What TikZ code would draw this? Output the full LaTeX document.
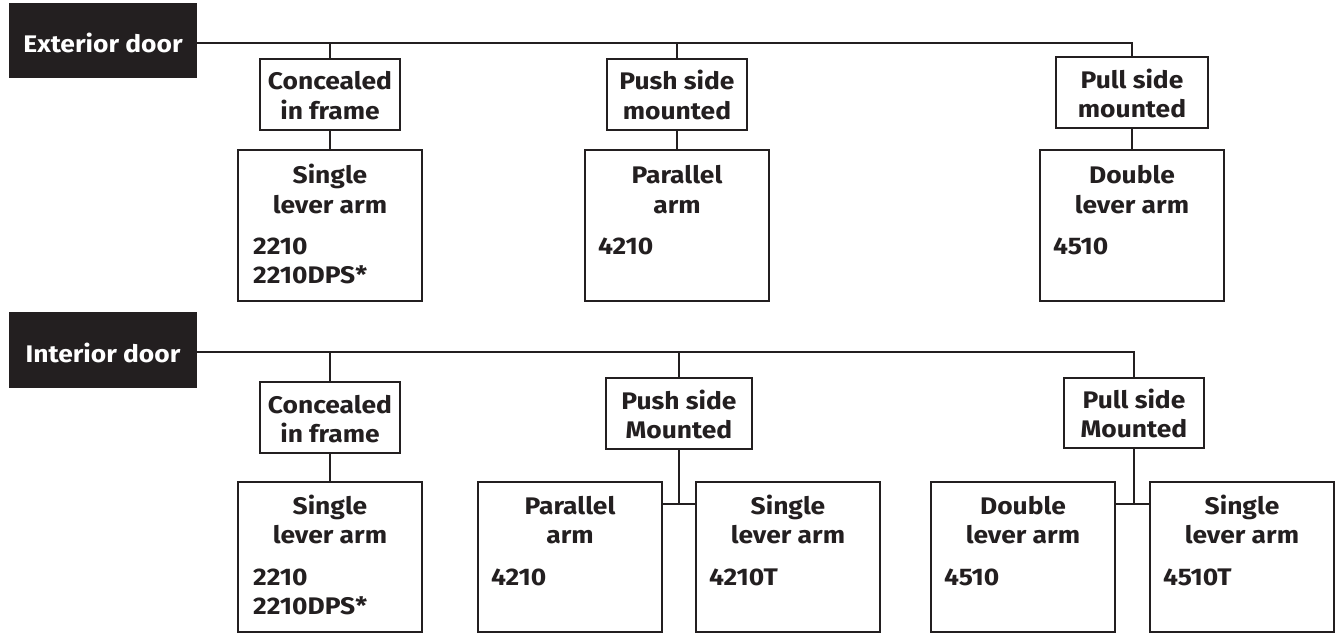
\documentclass[tikz,border=0pt]{standalone}
\usepackage{fontspec}
\setmainfont{Fira Sans}[FakeStretch=1.1]
\definecolor{ink}{HTML}{231F20}
\begin{document}
\begin{tikzpicture}[x=1pt,y=-1pt,
  box/.style={draw=ink,line width=1.4pt,inner sep=0pt},
  head/.style={fill=ink},
  conn/.style={draw=ink,line width=1.4pt},
  txt/.style={font=\bfseries\fontsize{24}{30}\selectfont,text=ink,inner sep=0pt,anchor=base},
  htxt/.style={txt,text=white},
  ltxt/.style={txt,anchor=base west}]
\useasboundingbox (0,0) rectangle (1340,633);
% ---------------- Exterior door ----------------
\node[box,head,minimum width=186pt,minimum height=73pt] (ext) at (103,40.5) {};
\node[htxt] (extt) at (103,52) {Exterior door};
\coordinate (eline) at (196,43);
\node[box,minimum width=140pt,minimum height=71pt] (ecc) at (330,94.5) {};
\node[box,minimum width=184pt,minimum height=151pt] (esl) at (330,225.5) {};
\node[box,minimum width=140pt,minimum height=71pt] (eps) at (677,94.5) {};
\node[box,minimum width=184pt,minimum height=151pt] (epa) at (677,225.5) {};
\node[box,minimum width=152pt,minimum height=71pt] (epl) at (1132,92.5) {};
\node[box,minimum width=184pt,minimum height=151pt] (edl) at (1132,225.5) {};
\draw[conn] (ext.east |- eline) -| (epl.north);
\draw[conn] (ecc.north |- eline) -- (ecc.north);
\draw[conn] (eps.north |- eline) -- (eps.north);
\draw[conn] (ecc.south) -- (esl.north);
\draw[conn] (eps.south) -- (epa.north);
\draw[conn] (epl.south) -- (edl.north);
\node[txt] (t1) at (330,89) {Concealed};
\node[txt] (t2) at (330,119) {in frame};
\node[txt] (t3) at (330,183) {Single};
\node[txt] (t4) at (330,213) {lever arm};
\node[ltxt] (t5) at (253,254) {2210};
\node[ltxt] (t6) at (253,283) {2210DPS*};
\node[txt] (t7) at (677,89) {Push side};
\node[txt] (t8) at (677,119) {mounted};
\node[txt] (t9) at (677,183) {Parallel};
\node[txt] (t10) at (677,213) {arm};
\node[ltxt] (t11) at (598,254) {4210};
\node[txt] (t12) at (1132,88) {Pull side};
\node[txt] (t13) at (1132,117) {mounted};
\node[txt] (t14) at (1132,183) {Double};
\node[txt] (t15) at (1132,213) {lever arm};
\node[ltxt] (t16) at (1053,254) {4510};
% ---------------- Interior door ----------------
\node[box,head,minimum width=186pt,minimum height=74pt] (int) at (103,350) {};
\node[htxt] (intt) at (103,362) {Interior door};
\coordinate (iline) at (196,352);
\node[box,minimum width=140pt,minimum height=71pt] (icc) at (330,417.5) {};
\node[box,minimum width=184pt,minimum height=150pt] (isl) at (330,557) {};
\node[box,minimum width=146pt,minimum height=71pt] (ips) at (679,413.5) {};
\node[box,minimum width=184pt,minimum height=150pt] (ipa) at (570,557) {};
\node[box,minimum width=184pt,minimum height=150pt] (is2) at (788,557) {};
\node[box,minimum width=140pt,minimum height=70pt] (ipl) at (1134,413) {};
\node[box,minimum width=184pt,minimum height=150pt] (idl) at (1023,557) {};
\node[box,minimum width=184pt,minimum height=150pt] (is3) at (1242,557) {};
\coordinate (jp) at (679,504);
\coordinate (jl) at (1134,504);
\draw[conn] (int.east |- iline) -| (ipl.north);
\draw[conn] (icc.north |- iline) -- (icc.north);
\draw[conn] (ips.north |- iline) -- (ips.north);
\draw[conn] (icc.south) -- (isl.north);
\draw[conn] (ips.south) -- (jp);
\draw[conn] (ipa.east |- jp) -- (is2.west |- jp);
\draw[conn] (ipl.south) -- (jl);
\draw[conn] (idl.east |- jl) -- (is3.west |- jl);
\node[txt] (u1) at (330,413) {Concealed};
\node[txt] (u2) at (330,442) {in frame};
\node[txt] (u3) at (330,514) {Single};
\node[txt] (u4) at (330,543) {lever arm};
\node[ltxt] (u5) at (253,585) {2210};
\node[ltxt] (u6) at (253,614) {2210DPS*};
\node[txt] (u7) at (679,409) {Push side};
\node[txt] (u8) at (679,438) {Mounted};
\node[txt] (u9) at (570,514) {Parallel};
\node[txt] (u10) at (570,543) {arm};
\node[ltxt] (u11) at (491,585) {4210};
\node[txt] (u12) at (788,514) {Single};
\node[txt] (u13) at (788,543) {lever arm};
\node[ltxt] (u14) at (709,585) {4210T};
\node[txt] (u15) at (1134,408) {Pull side};
\node[txt] (u16) at (1134,437) {Mounted};
\node[txt] (u17) at (1023,514) {Double};
\node[txt] (u18) at (1023,543) {lever arm};
\node[ltxt] (u19) at (944,585) {4510};
\node[txt] (u20) at (1242,514) {Single};
\node[txt] (u21) at (1242,543) {lever arm};
\node[ltxt] (u22) at (1163,585) {4510T};
\end{tikzpicture}
\end{document}
